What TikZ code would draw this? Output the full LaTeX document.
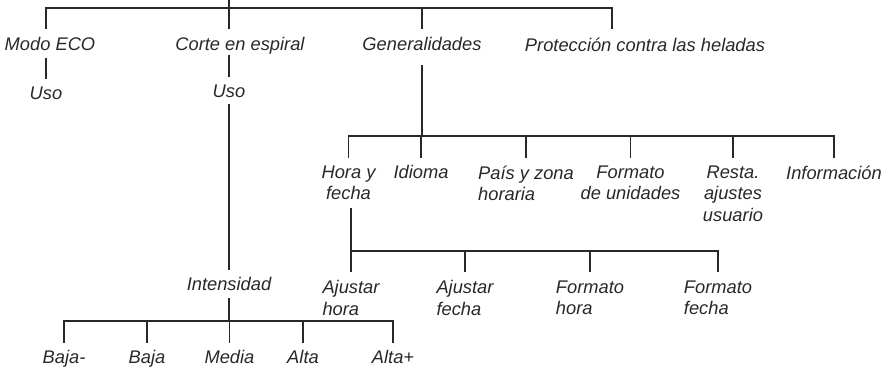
\documentclass[tikz,border=0pt]{standalone}
\usepackage{fontspec}
\setmainfont{Liberation Sans}
\definecolor{colline}{RGB}{40,40,40}
\tikzset{
	menuitem/.style={anchor=north, inner sep=0pt, align=center, text=colline, font=\itshape\fontsize{18.3}{21.5}\selectfont},
	menuline/.style={line width=1.4pt, draw=colline, line cap=rect},
	link/.style={menuline, shorten <=7pt, shorten >=8pt},
	drop/.style={menuline, shorten >=9pt}
}

\begin{document}
\begin{tikzpicture}[x=1pt, y=-1pt]
	\useasboundingbox (0,0) rectangle (894,369);
	% first level
	\node[menuitem] (eco) at (50,37.5) {Modo ECO};
	\node[menuitem] (corte) at (240,37.5) {Corte en espiral};
	\node[menuitem] (gen) at (422,37.5) {Generalidades};
	\node[menuitem] (prot) at (645,37.5) {Protección contra las heladas};
	\node[menuitem] (usoeco) at (46,86.5) {Uso};
	\node[menuitem] (usocorte) at (229,84.5) {Uso};
	\node[menuitem] (intens) at (229,277.5) {Intensidad};
	% Generalidades
	\foreach \name/\x/\al/\txt in {hora/348.5/center/{Hora y\\fecha}, idioma/421/center/{Idioma},
		pais/526/left/{País y zona\\horaria}, unid/630.5/center/{Formato\\de unidades},
		resta/733/center/{Resta.\\ajustes\\usuario}, info/834/center/{Información}} {
		\node[menuitem, align=\al] (\name) at (\x,165.5) {\txt};
	}
	\foreach \name/\x/\txt in {ajh/351/{Ajustar\\hora}, ajf/465/{Ajustar\\fecha},
		fh/590/{Formato\\hora}, ff/718/{Formato\\fecha}} {
		\node[menuitem, align=left] (\name) at (\x,280.5) {\txt};
	}
	% Intensidad
	\foreach \name/\x/\txt in {bajam/64/{Baja-}, baja/147/{Baja}, media/229.5/{Media},
		alta/303/{Alta}, altap/393/{Alta+}} {
		\node[menuitem] (\name) at (\x,350.5) {\txt};
	}

	\coordinate (root) at (229,0);
	\coordinate (bar1) at (229,8);
	\coordinate (protdrop) at (612,8);
	\coordinate (bar2) at (0,136);
	\coordinate (bar3) at (0,251);
	\coordinate (bar4) at (0,321);

	\draw[menuline] (root) -- (bar1);
	\draw[menuline] (bar1 -| usoeco) -- (protdrop);
	\foreach \name in {usoeco, usocorte, gen} {
		\draw[drop] (bar1 -| \name) -- (\name |- eco.north);
	}
	\draw[drop] (protdrop) -- (protdrop |- prot.north);
	\draw[link] (eco.south -| usoeco) -- (usoeco.north);
	\draw[link, shorten <=1pt] (corte.south -| usocorte) -- (usocorte.north);
	\draw[link] (usocorte.south) -- (intens.north);

	\draw[menuline, shorten <=14.5pt] (gen.south) -- (gen.south |- bar2);
	\draw[menuline] (bar2 -| hora) -- (bar2 -| info);
	\foreach \name in {hora, idioma, pais, unid, resta, info} {
		\draw[drop, shorten >=8.5pt] (bar2 -| \name) -- (\name.north);
	}

	\draw[menuline, shorten <=8.5pt] (hora.south -| ajh) -- (bar3 -| ajh);
	\draw[menuline] (bar3 -| ajh) -- (bar3 -| ff);
	\foreach \name in {ajh, ajf, fh, ff} {
		\draw[drop] (bar3 -| \name) -- (\name.north);
	}

	\draw[menuline, shorten <=7.5pt] (intens.south) -- (intens.south |- bar4);
	\draw[menuline] (bar4 -| bajam) -- (bar4 -| altap);
	\foreach \name in {bajam, baja, media, alta, altap} {
		\draw[drop, shorten >=8.5pt] (bar4 -| \name) -- (\name.north);
	}
\end{tikzpicture}
\end{document}
